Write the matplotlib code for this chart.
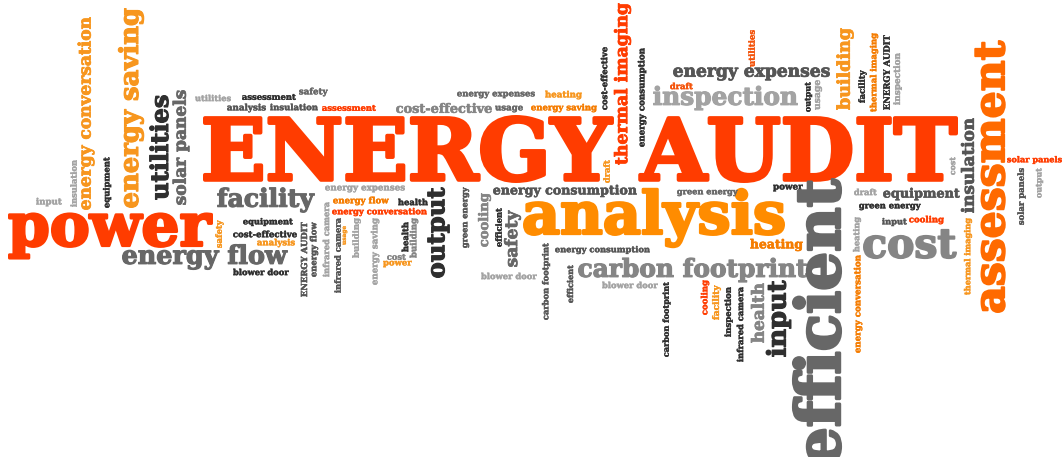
import matplotlib
matplotlib.use("Agg")
import matplotlib.pyplot as plt
import matplotlib.patheffects as pe
from matplotlib.textpath import TextPath
from matplotlib.font_manager import FontProperties

# ---------------- data: the words of the cloud (in drawing order) ----------------
words = [
    "ENERGY AUDIT", "power", "analysis", "carbon footprint", "inspection",
    "energy expenses", "cost", "facility", "energy flow", "cost-effective",
    "energy consumption", "equipment", "green energy", "input", "cooling",
    "draft", "solar panels", "green energy", "power", "heating",
    "energy consumption", "blower door", "draft", "energy expenses", "heating",
    "energy saving", "usage", "assessment", "insulation", "safety",
    "assessment", "analysis", "utilities", "input", "equipment",
    "cost-effective", "analysis", "blower door", "energy expenses", "energy flow",
    "health", "energy conversation", "cost", "power", "blower door",
    # vertical words
    "energy conversation", "insulation", "equipment", "energy saving", "utilities",
    "solar panels", "safety", "ENERGY AUDIT", "energy flow", "infrared camera",
    "infrared camera", "usage", "building", "energy saving", "health",
    "building", "output", "green energy", "cooling", "efficient",
    "safety", "cost-effective", "thermal imaging", "energy consumption", "utilities",
    "output", "usage", "building", "facility", "thermal imaging",
    "ENERGY AUDIT", "inspection", "assessment", "insulation", "cost",
    "solar panels", "output", "thermal imaging", "heating", "energy conversation",
    "efficient", "draft", "carbon footprint", "efficient", "carbon footprint",
    "cooling", "facility", "inspection", "infrared camera", "health",
    "input",
]

# ---------------- layout: ink centre x, ink centre y, ink length, rotation, colour ----------------
PAL = {
    "R": "#ff3c00", "R2": "#f4530a", "O": "#ff6a00", "O2": "#f57c00",
    "A": "#f7961e", "A2": "#ff8c00",
    "D": "#2f2f2f", "G1": "#555555", "G2": "#676767", "G3": "#858585", "G4": "#a3a3a3",
}
layout = [
    (580.5, 149, 755, 0, "R"), (110.5, 236, 205, 0, "R"), (654, 218, 262, 0, "A2"),
    (693, 270, 230, 0, "G3"), (725.5, 98, 145, 0, "G4"),
    (751.5, 74, 157, 0, "G1"), (910, 244, 94, 0, "G3"), (266, 200, 98, 0, "G2"),
    (205, 257, 166, 0, "G2"), (444, 108, 96, 0, "G3"),
    (565, 191, 144, 0, "G1"), (921.5, 194, 77, 0, "G1"), (890, 207, 62, 0, "D"),
    (894.5, 222, 25, 0, "G1"), (926.5, 220, 35, 0, "R"),
    (865.5, 192, 23, 0, "G4"), (1034.5, 160, 55, 0, "R"), (707.5, 193, 61, 0, "G2"),
    (788, 188, 30, 0, "D"), (776.5, 245, 53, 0, "O2"),
    (602.5, 250, 95, 0, "G1"), (630, 285, 56, 0, "G4"), (681.5, 86, 23, 0, "R2"),
    (496, 95, 78, 0, "G2"), (563.5, 95, 37, 0, "A"),
    (564, 108, 66, 0, "O2"), (509, 109, 28, 0, "G2"), (349, 108, 54, 0, "R"),
    (294, 107, 48, 0, "G1"), (313.5, 92, 29, 0, "G2"),
    (269, 97, 54, 0, "D"), (246.5, 108, 39, 0, "G1"), (213, 98, 36, 0, "G4"),
    (49, 202, 26, 0, "G4"), (268, 222, 50, 0, "D"),
    (265, 234, 64, 0, "D"), (276, 243, 38, 0, "A"), (261, 272, 56, 0, "D"),
    (365, 189, 80, 0, "G4"), (361, 201, 56, 0, "O2"),
    (413, 202, 30, 0, "D"), (379.5, 212, 95, 0, "R"), (396.5, 257, 19, 0, "G3"),
    (397.5, 264, 29, 0, "A"), (509, 276, 56, 0, "G4"),
    # vertical
    (86, 113.5, 193, 90, "A"), (73.5, 183.5, 47, 90, "G4"), (107, 182.5, 51, 90, "D"),
    (131, 108, 200, 90, "A"), (159, 147.5, 105, 90, "D"),
    (181, 147.5, 115, 90, "G2"), (219.5, 234, 28, 90, "A"), (304, 259.5, 75, 90, "G1"),
    (314, 249.5, 55, 90, "G1"), (326, 239.5, 75, 90, "G4"),
    (337.5, 255.5, 75, 90, "G1"), (345, 235.5, 19, 90, "A"), (356.5, 238, 40, 90, "G4"),
    (375, 251.5, 67, 90, "G4"), (405, 237, 30, 90, "D"),
    (414, 238, 40, 90, "G3"), (438.5, 232.5, 91, 90, "D"), (466, 217.5, 61, 90, "G1"),
    (484.5, 220, 54, 90, "G3"), (498.5, 227.5, 39, 90, "D"),
    (512.5, 238.5, 57, 90, "G2"), (604, 78.5, 63, 90, "D"), (622.5, 84, 162, 90, "R"),
    (642, 97.5, 99, 90, "D"), (751.5, 48.5, 37, 90, "R2"),
    (808.5, 97, 30, 90, "D"), (818.5, 95, 30, 90, "G4"), (845, 69, 82, 90, "A"),
    (862.5, 86.5, 33, 90, "D"), (874, 72.5, 79, 90, "O2"),
    (886.5, 72.5, 75, 90, "D"), (897.5, 79, 52, 90, "G4"), (990, 176.5, 273, 90, "O"),
    (967.5, 165.5, 95, 90, "G1"), (952.5, 166, 18, 90, "G4"),
    (1021.5, 196.5, 57, 90, "G1"), (1039.5, 183, 30, 90, "G4"), (968, 256.5, 77, 90, "A"),
    (857, 234.5, 35, 90, "G4"), (858, 304, 98, 90, "O2"),
    (817, 321.5, 287, 90, "G2"), (606.5, 171.5, 23, 90, "A"), (546, 281.5, 77, 90, "G1"),
    (570, 284, 38, 90, "G1"), (666.5, 319.5, 75, 90, "D"),
    (705, 297.5, 35, 90, "R"), (716.5, 302.5, 35, 90, "A"), (728.5, 312, 50, 90, "D"),
    (740, 324.5, 75, 90, "D"), (757.5, 313, 60, 90, "G3"),
    (778.5, 318.5, 77, 90, "D"),
]

W, H, DPI = 1062, 457, 100
STROKE = 0.045          # extra stroke weight, as a fraction of font size
fig = plt.figure(figsize=(W / DPI, H / DPI), dpi=DPI, facecolor="white")
ax = fig.add_axes([0, 0, 1, 1])
ax.set_xlim(0, W)
ax.set_ylim(H, 0)
ax.axis("off")

fp = FontProperties(family="DejaVu Serif", weight="bold")

for word, (cx, cy, length, rot, ckey) in zip(words, layout):
    ext = TextPath((0, 0), word, size=100, prop=fp).get_extents()
    k = length / ext.width
    for _ in range(3):
        fs = 100 * k * 72 / DPI
        s_px = STROKE * fs * DPI / 72
        k = (length - s_px) / ext.width
    fs = 100 * k * 72 / DPI
    uc = (ext.x0 + ext.x1) / 2
    vc = (ext.y0 + ext.y1) / 2
    if rot == 0:
        x0 = cx - uc * k
        y0 = cy + vc * k
    else:
        x0 = cx + vc * k
        y0 = cy + uc * k
    col = PAL[ckey]
    ax.text(x0, y0, word, fontproperties=fp, fontsize=fs, color=col,
            rotation=rot, rotation_mode="anchor", ha="left", va="baseline",
            path_effects=[pe.withStroke(linewidth=STROKE * fs, foreground=col)])

fig.savefig("out.png", dpi=DPI, facecolor="white")
